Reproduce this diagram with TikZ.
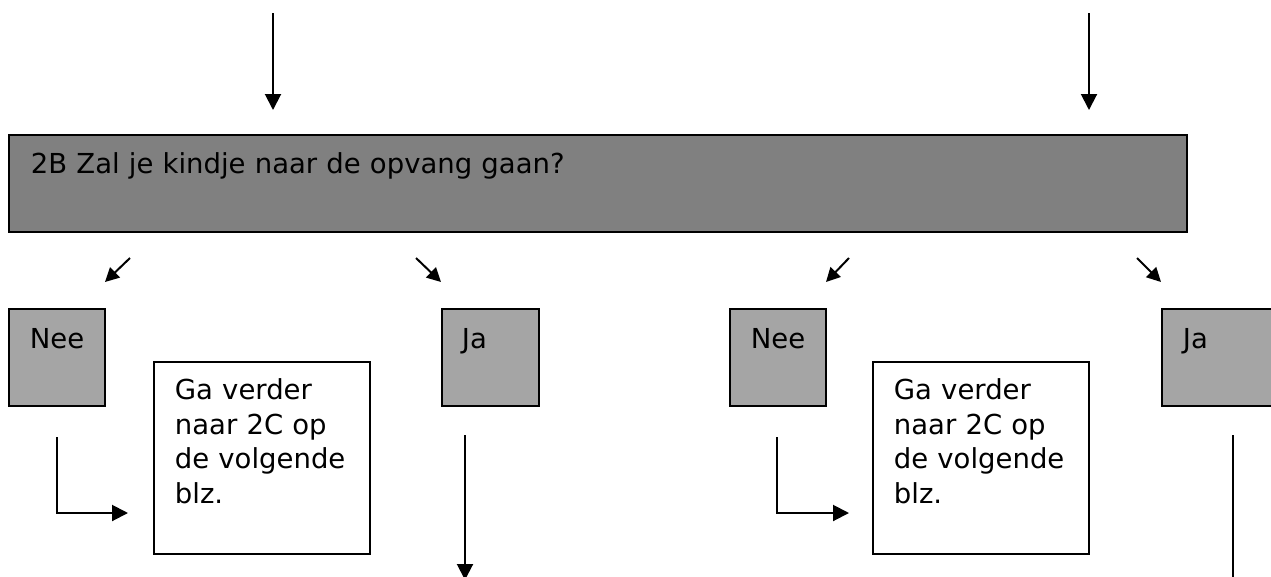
\documentclass[tikz,border=0pt]{standalone}
\usepackage{fontspec}
\setmainfont{DejaVu Sans}
\usetikzlibrary{shapes, arrows.meta}
\definecolor{donker}{HTML}{808080}
\definecolor{licht}{HTML}{A5A5A5}
\tikzstyle{vraag} = [rectangle, draw=black, line width=1.8pt, fill=donker, anchor=north west, inner xsep=22pt, inner ysep=0pt, align=left, text height=39pt, text depth=58pt]
\tikzstyle{keuze} = [rectangle, draw=black, line width=1.8pt, fill=licht, anchor=north west, inner xsep=21pt, inner ysep=0pt, align=left, text height=40pt, text depth=57pt]
\tikzstyle{verwijs} = [rectangle, draw=black, line width=1.8pt, fill=white, anchor=north west, inner xsep=21pt, inner ysep=0pt, align=left, text width=174pt, text height=38pt, text depth=154pt]
\tikzstyle{pijl} = [line width=2pt, -{Triangle[length=16pt,width=16pt]}]
\tikzstyle{kleinepijl} = [line width=2pt, -{Triangle[length=14pt,width=14pt]}]

\begin{document}
\begin{tikzpicture}[x=1pt, y=-1pt, font=\fontsize{27.5}{34.5}\selectfont]
    \clip (0,0) rectangle (1271,576);
    % vraag
    \node (vraag) [vraag, text width=1134pt] at (8,134) {2B Zal je kindje naar de opvang gaan?};
    % linker tak
    \node (neeL) [keuze, text width=54pt] at (8,308) {Nee};
    \node (verderL) [verwijs] at (153,361) {Ga verder\\naar 2C op\\de volgende\\blz.};
    \node (jaL) [keuze, inner xsep=20pt, text width=57pt] at (441,308) {Ja};
    % rechter tak
    \node (neeR) [keuze, text width=54pt] at (729,308) {Nee};
    \node (verderR) [verwijs] at (872,361) {Ga verder\\naar 2C op\\de volgende\\blz.};
    \node (jaR) [keuze, text width=78pt] at (1161,308) {Ja};

    \coordinate (inL) at (273,13);
    \coordinate (inLend) at (273,110);
    \coordinate (inR) at (1089,13);
    \coordinate (inRend) at (1089,110);
    \coordinate (splitL1) at (130,258);
    \coordinate (splitL1end) at (105,282);
    \coordinate (splitL2) at (416,258);
    \coordinate (splitL2end) at (441,282);
    \coordinate (splitR1) at (849,258);
    \coordinate (splitR1end) at (826,282);
    \coordinate (splitR2) at (1137,258);
    \coordinate (splitR2end) at (1161,282);
    \coordinate (hoekL) at (57,437);
    \coordinate (hoekLend) at (128,513);
    \coordinate (hoekR) at (777,437);
    \coordinate (hoekRend) at (849,513);
    \coordinate (doorL) at (465,435);
    \coordinate (doorLend) at (465,580);
    \coordinate (doorR) at (1233,435);
    \coordinate (doorRend) at (1233,595);

    \draw [pijl] (inL) -- (inLend);
    \draw [pijl] (inR) -- (inRend);
    \draw [kleinepijl] (splitL1) -- (splitL1end);
    \draw [kleinepijl] (splitL2) -- (splitL2end);
    \draw [kleinepijl] (splitR1) -- (splitR1end);
    \draw [kleinepijl] (splitR2) -- (splitR2end);
    \draw [pijl] (hoekL) |- (hoekLend);
    \draw [pijl] (hoekR) |- (hoekRend);
    \draw [pijl] (doorL) -- (doorLend);
    \draw [pijl] (doorR) -- (doorRend);
\end{tikzpicture}
\end{document}
